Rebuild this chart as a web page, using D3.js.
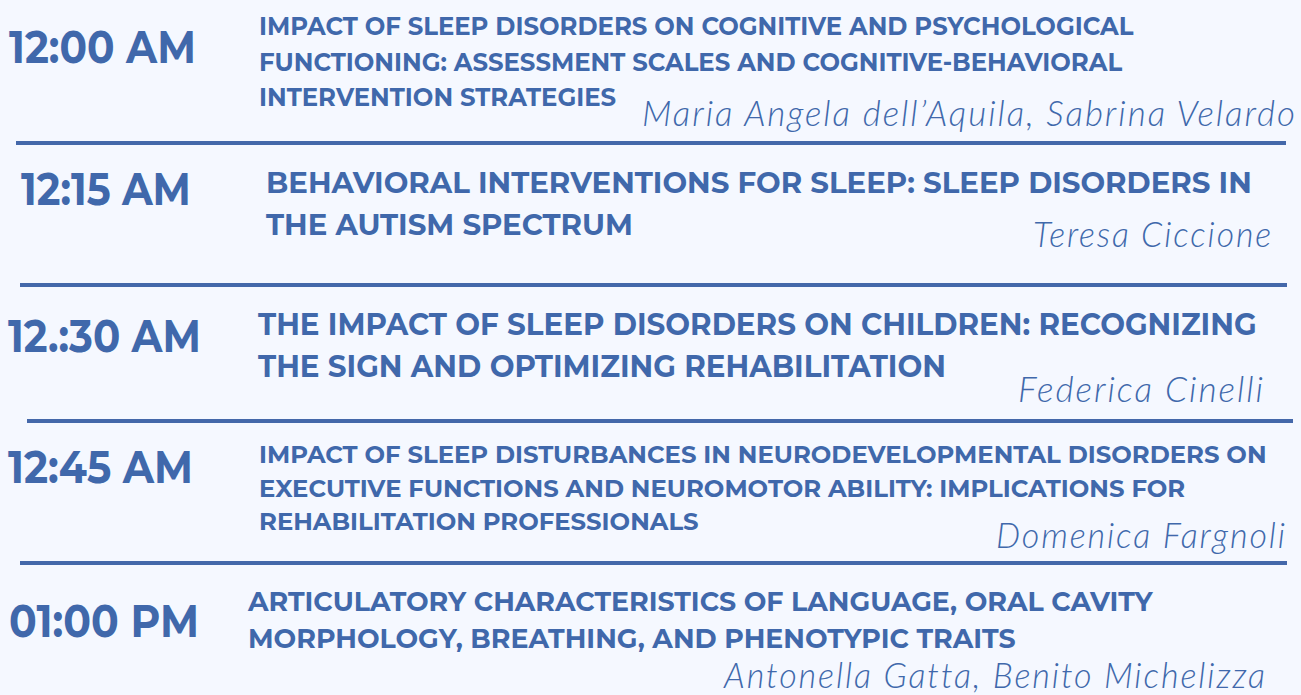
<!DOCTYPE html>
<html>
<head>
<meta charset="utf-8">
<title>programme</title>
<style>
body { margin: 0; background: #f5f8ff; }
svg { display: block; background: #f5f8ff; }
.time { font-family: Montserrat, Inter, sans-serif; font-weight: 700; fill: #4068ab; }
.title { font-family: Montserrat, Inter, sans-serif; font-weight: 700; fill: #4068ab; }
.author { font-family: Lato, "Open Sans", sans-serif; font-style: italic; font-weight: 300; fill: #4068ab; letter-spacing: 2px; }
.rule { stroke: #4468aa; stroke-width: 4; }
</style>
</head>
<body>
<svg width="1301" height="695"></svg>
<script src="https://d3js.org/d3.v7.min.js"></script>
<script>
var times = ["12:00 AM", "12:15 AM", "12.:30 AM", "12:45 AM", "01:00 PM"];

var titles = [
  ["IMPACT OF SLEEP DISORDERS ON COGNITIVE AND PSYCHOLOGICAL",
   "FUNCTIONING: ASSESSMENT SCALES AND COGNITIVE-BEHAVIORAL",
   "INTERVENTION STRATEGIES"],
  ["BEHAVIORAL INTERVENTIONS FOR SLEEP: SLEEP DISORDERS IN",
   "THE AUTISM SPECTRUM"],
  ["THE IMPACT OF SLEEP DISORDERS ON CHILDREN: RECOGNIZING",
   "THE SIGN AND OPTIMIZING REHABILITATION"],
  ["IMPACT OF SLEEP DISTURBANCES IN NEURODEVELOPMENTAL DISORDERS ON",
   "EXECUTIVE FUNCTIONS AND NEUROMOTOR ABILITY: IMPLICATIONS FOR",
   "REHABILITATION PROFESSIONALS"],
  ["ARTICULATORY CHARACTERISTICS OF LANGUAGE, ORAL CAVITY",
   "MORPHOLOGY, BREATHING, AND PHENOTYPIC TRAITS"]
];

var authors = [
  "Maria Angela dell\u2019Aquila, Sabrina Velardo",
  "Teresa Ciccione",
  "Federica Cinelli",
  "Domenica Fargnoli",
  "Antonella Gatta, Benito Michelizza"
];

// where things sit
var slotLayout = [
  {timeX: 9,  timeW: 187, timeY: 63,  titleX: 259, titleW: 875, titleY: [35, 71, 106],  titleSize: 25, authX: 642,  authW: 655, authY: 126},
  {timeX: 21, timeW: 170, timeY: 205, titleX: 266, titleW: 986, titleY: [193, 235],     titleSize: 29, authX: 1033, authW: 240, authY: 247},
  {timeX: 8,  timeW: 193, timeY: 352, titleX: 258, titleW: 999, titleY: [335, 377],     titleSize: 30, authX: 1018, authW: 247, authY: 402},
  {timeX: 8,  timeW: 185, timeY: 483, titleX: 259, titleW: 1008, titleY: [463, 497, 530], titleSize: 24, authX: 996, authW: 291, authY: 548},
  {timeX: 9,  timeW: 190, timeY: 637, titleX: 248, titleW: 905, titleY: [611, 648],     titleSize: 28, authX: 724,  authW: 543, authY: 688}
];

var rules = [
  {x1: 16, x2: 1286, y: 143},
  {x1: 20, x2: 1287, y: 285},
  {x1: 27, x2: 1293, y: 421},
  {x1: 20, x2: 1287, y: 563}
];

var svg = d3.select("svg");

svg.append("g")
  .selectAll("line")
  .data(rules)
  .enter().append("line")
    .attr("class", "rule")
    .attr("x1", function(d) { return d.x1; })
    .attr("x2", function(d) { return d.x2; })
    .attr("y1", function(d) { return d.y; })
    .attr("y2", function(d) { return d.y; });

var slots = svg.append("g")
  .selectAll("g")
  .data(times.map(function(t, i) { return {time: t, lines: titles[i], author: authors[i], pos: slotLayout[i]}; }))
  .enter().append("g");

// squeeze a text group horizontally so it spans the width seen in the reference
function fitWidth(sel, x, target) {
  var w = 0;
  sel.selectAll("text").each(function() { w = Math.max(w, this.getComputedTextLength()); });
  sel.attr("transform", "translate(" + x + ",0) scale(" + (target / w) + ",1)");
}

slots.each(function(d) {
  var g = d3.select(this);

  var tg = g.append("g");
  tg.append("text")
    .attr("class", "time")
    .attr("y", d.pos.timeY)
    .style("font-size", "45px")
    .text(d.time);
  fitWidth(tg, d.pos.timeX, d.pos.timeW);

  var hg = g.append("g");
  hg.selectAll("text")
    .data(d.lines)
    .enter().append("text")
      .attr("class", "title")
      .attr("y", function(l, i) { return d.pos.titleY[i]; })
      .style("font-size", d.pos.titleSize + "px")
      .text(function(l) { return l; });
  // first line is the widest in every slot
  fitWidth(hg, d.pos.titleX, d.pos.titleW);

  var ag = g.append("g");
  ag.append("text")
    .attr("class", "author")
    .attr("y", d.pos.authY)
    .style("font-size", "36px")
    .text(d.author);
  fitWidth(ag, d.pos.authX, d.pos.authW);
});
</script>
</body>
</html>
